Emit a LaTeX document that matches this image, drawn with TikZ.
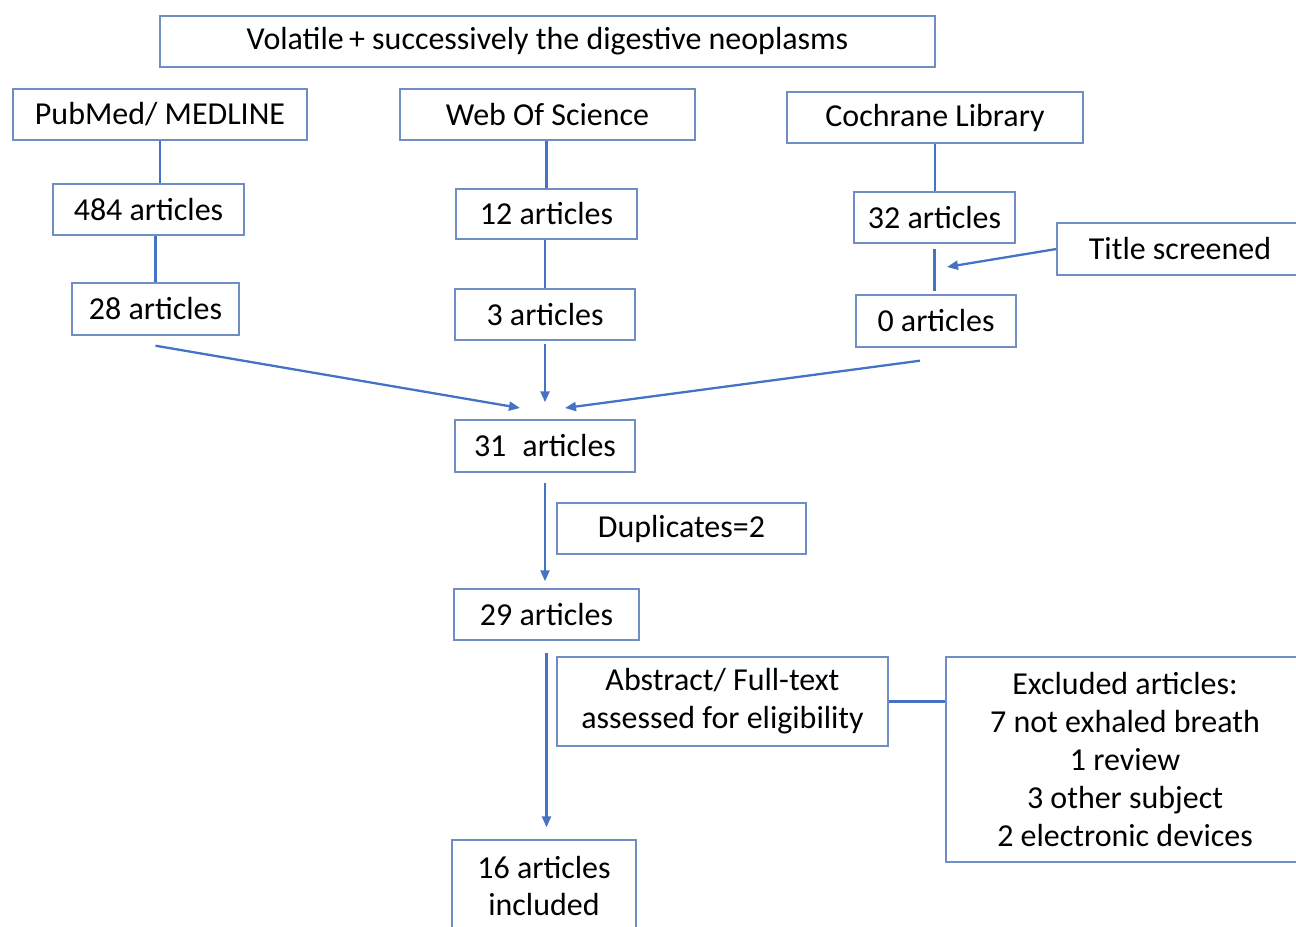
\documentclass[tikz,border=0pt]{standalone}
\usepackage{fontspec}
\setmainfont{Carlito}
\usetikzlibrary{arrows.meta}
\definecolor{boxline}{RGB}{112,142,196}
\definecolor{arrline}{RGB}{68,114,196}
\tikzset{
	flowbox/.style 2 args={draw=boxline, line width=0.8pt, inner sep=0pt, align=center,
		minimum width=#1*0.02cm, minimum height=#2*0.02cm,
		font=\fontsize{18.2}{21.6}\selectfont},
	link/.style={draw=arrline, line width=1.3pt},
	arr/.style={link, -{Triangle[length=2.2mm,width=1.8mm]}}
}

\begin{document}
\begin{tikzpicture}[x=0.02cm, y=-0.02cm]
			%%%%% START %%%%%
			\useasboundingbox (0, 0) rectangle (1296, 927);
			
			\node[flowbox={775}{51}] (title) at (547.5, 41.5) {Volatile\,+ successively the digestive neoplasms};
			
			\node[flowbox={294}{51}] (pubmed) at (160, 114.5) {PubMed/ MEDLINE};
			\node[flowbox={295}{51}] (wos) at (547.5, 114.5) {Web Of Science};
			\node[flowbox={296}{51}] (cochrane) at (935, 117.5) {Cochrane Library};
			
			\node[flowbox={191}{51}] (n484) at (148.5, 209.5) {484 articles};
			\node[flowbox={181}{50}] (n12) at (546.5, 214) {12 articles};
			\node[flowbox={161}{51}] (n32) at (934.5, 217.5) {32 articles};
			\node[flowbox={246}{52}] (screened) at (1180, 249) {Title screened};
			
			\node[flowbox={167}{52}] (n28) at (155.5, 309) {28 articles};
			\node[flowbox={180}{51}] (n3) at (545, 314.5) {3 articles};
			\node[flowbox={160}{52}] (n0) at (936, 321) {0 articles};
			
			\node[flowbox={180}{52}] (n31) at (545, 446) {31\enspace articles};
			\node[flowbox={249}{51}] (dupl) at (681.5, 528.5) {Duplicates=2};
			\node[flowbox={185}{51}] (n29) at (546.5, 614.5) {29 articles};
			\node[flowbox={331}{89}] (abstr) at (722.5, 701.5) {Abstract/ Full-text\\assessed for eligibility};
			\node[flowbox={358}{205}] (excl) at (1125, 759.5) {Excluded articles:\\7 not exhaled breath\\1 review\\3 other subject\\2 electronic devices};
			\node[flowbox={184}{92}] (n16) at (544, 886) {16 articles\\included};
			
			\coordinate (hit) at (947, 267);
			\coordinate (in31l) at (520, 408);
			\coordinate (in31r) at (565, 408);
			
			% plain links
			\draw[link] (pubmed.south) -- (pubmed.south |- n484.north);
			\draw[link] (n28.north |- n484.south) -- (n28.north);
			\draw[link] (n12.north |- wos.south) -- (n12.north);
			\draw[link] (n3.north |- n12.south) -- (n3.north);
			\draw[link] (cochrane.south) -- (cochrane.south |- n32.north);
			\draw[link, shorten <=0.1cm, shorten >=0.06cm] (n32.south) -- (n32.south |- n0.north);
			\draw[link] (abstr.east) -- (excl.west |- abstr.east);
			
			% arrows
			\draw[arr] (screened.west) -- (hit);
			\draw[arr] (n28.south) ++(0, 10) -- (in31l);
			\draw[arr] (n0.south) ++(-16, 13) -- (in31r);
			\draw[arr, shorten <=0.06cm, shorten >=0.34cm] (n3.south) -- (n3.south |- n31.north);
			\draw[arr, shorten <=0.2cm, shorten >=0.14cm] (n31.south) -- (n31.south |- n29.north);
			\draw[arr, shorten <=0.24cm, shorten >=0.24cm] (n29.south) -- (n29.south |- n16.north);
			
			%%%%% END %%%%%
\end{tikzpicture}
\end{document}
